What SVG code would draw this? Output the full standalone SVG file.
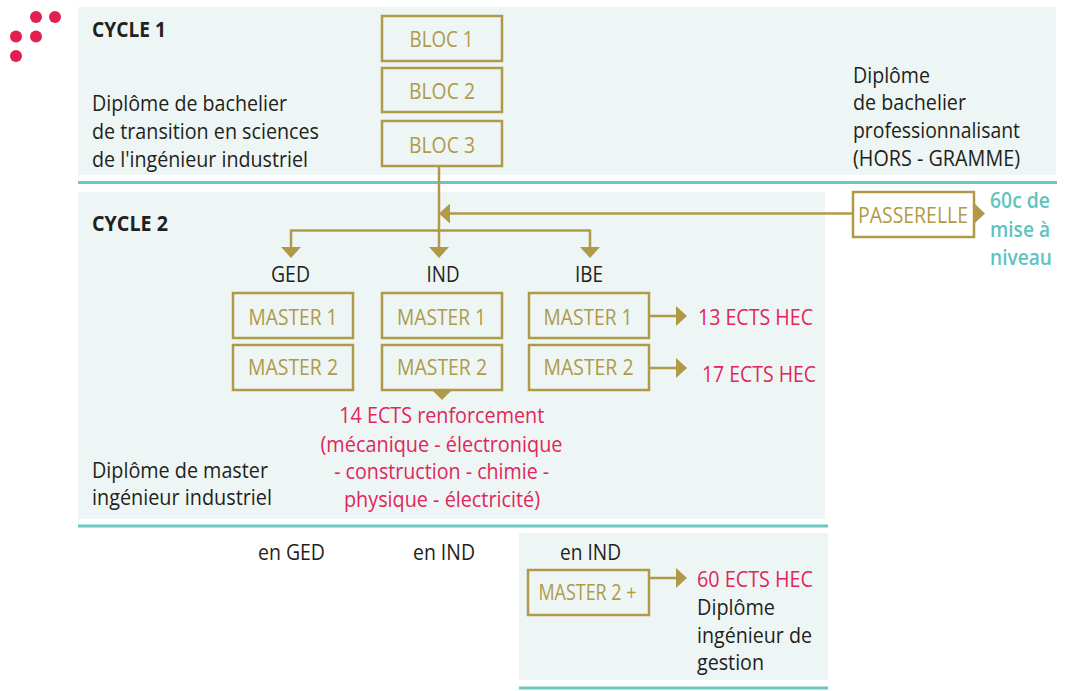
<svg xmlns="http://www.w3.org/2000/svg" width="1065" height="691" viewBox="0 0 1065 691">
<style>
text { font-family: "Open Sans", "Noto Sans", "DejaVu Sans", sans-serif; font-size: 21.5px; }
.d { fill: #231F20; }
.b { font-weight: 700; }
.g { fill: #B09A48; }
.r { fill: #E2255A; }
.c { fill: #5EC4BE; font-weight: 600; }
.m { text-anchor: middle; }
.bg { fill: #EDF6F5; }
.tl { stroke: #6CC6C1; stroke-width: 3; fill: none; }
.box { fill: none; stroke: #B09A48; stroke-width: 2.5; }
.ln { fill: none; stroke: #B09A48; stroke-width: 2.5; }
.ah { fill: #B09A48; }
.dot { fill: #E0204F; }
</style>
<defs>
<marker id="arr" markerUnits="userSpaceOnUse" markerWidth="11" markerHeight="20" refX="0" refY="10" orient="auto" viewBox="0 0 11 20">
<path d="M0,0 L11,10 L0,20 z" fill="#B09A48"/>
</marker>
</defs>
<rect width="1065" height="691" fill="#FFFFFF"/>
<g id="background">
<rect class="bg" x="78" y="7" width="978" height="168"/>
<rect class="bg" x="78" y="192" width="747" height="327"/>
<rect class="bg" x="519" y="533" width="309" height="147"/>
<line class="tl" x1="78" y1="182.5" x2="1057" y2="182.5"/>
<line class="tl" x1="78" y1="526" x2="828" y2="526"/>
<line class="tl" x1="519" y1="688" x2="828" y2="688"/>
</g>
<g id="logo">
<circle class="dot" cx="36" cy="17" r="6"/>
<circle class="dot" cx="55" cy="17" r="6"/>
<circle class="dot" cx="16" cy="36.5" r="6"/>
<circle class="dot" cx="36" cy="36.5" r="6"/>
<circle class="dot" cx="16" cy="56" r="6"/>
</g>
<g id="labels">
<text class="d b" x="92" y="37" textLength="74" lengthAdjust="spacingAndGlyphs">CYCLE 1</text>
<text class="d" x="92" y="111" textLength="195" lengthAdjust="spacingAndGlyphs">Diplôme de bachelier</text>
<text class="d" x="92" y="139" textLength="227" lengthAdjust="spacingAndGlyphs">de transition en sciences</text>
<text class="d" x="92" y="167" textLength="216" lengthAdjust="spacingAndGlyphs">de l'ingénieur industriel</text>
<text class="d" x="853" y="83" textLength="77" lengthAdjust="spacingAndGlyphs">Diplôme</text>
<text class="d" x="853" y="110" textLength="113" lengthAdjust="spacingAndGlyphs">de bachelier</text>
<text class="d" x="853" y="138" textLength="167" lengthAdjust="spacingAndGlyphs">professionnalisant</text>
<text class="d" x="853" y="166" textLength="167" lengthAdjust="spacingAndGlyphs">(HORS - GRAMME)</text>
<text class="d b" x="92" y="231" textLength="76" lengthAdjust="spacingAndGlyphs">CYCLE 2</text>
<text class="d m" x="290.5" y="282" textLength="39" lengthAdjust="spacingAndGlyphs">GED</text>
<text class="d m" x="443" y="282" textLength="33" lengthAdjust="spacingAndGlyphs">IND</text>
<text class="d m" x="589" y="282" textLength="28" lengthAdjust="spacingAndGlyphs">IBE</text>
<text class="d" x="92" y="478" textLength="176" lengthAdjust="spacingAndGlyphs">Diplôme de master</text>
<text class="d" x="92" y="505" textLength="180" lengthAdjust="spacingAndGlyphs">ingénieur industriel</text>
<text class="d" x="258" y="560" textLength="67" lengthAdjust="spacingAndGlyphs">en GED</text>
<text class="d" x="413" y="560" textLength="62" lengthAdjust="spacingAndGlyphs">en IND</text>
<text class="d" x="560" y="560" textLength="61" lengthAdjust="spacingAndGlyphs">en IND</text>
<text class="r" x="698" y="325" textLength="115" lengthAdjust="spacingAndGlyphs">13 ECTS HEC</text>
<text class="r" x="702" y="382" textLength="114" lengthAdjust="spacingAndGlyphs">17 ECTS HEC</text>
<text class="r m" x="441.7" y="423" textLength="205" lengthAdjust="spacingAndGlyphs">14 ECTS renforcement</text>
<text class="r m" x="441.5" y="451.5" textLength="242" lengthAdjust="spacingAndGlyphs">(mécanique - électronique</text>
<text class="r m" x="441.7" y="479" textLength="215" lengthAdjust="spacingAndGlyphs">- construction - chimie -</text>
<text class="r m" x="442" y="506.5" textLength="196" lengthAdjust="spacingAndGlyphs">physique - électricité)</text>
<text class="c" x="990" y="208" textLength="60" lengthAdjust="spacingAndGlyphs">60c de</text>
<text class="c" x="990" y="237" textLength="60" lengthAdjust="spacingAndGlyphs">mise à</text>
<text class="c" x="990" y="265" textLength="62" lengthAdjust="spacingAndGlyphs">niveau</text>
<text class="r" x="697" y="587" textLength="116" lengthAdjust="spacingAndGlyphs">60 ECTS HEC</text>
<text class="d" x="697" y="615" textLength="78" lengthAdjust="spacingAndGlyphs">Diplôme</text>
<text class="d" x="697" y="643" textLength="115" lengthAdjust="spacingAndGlyphs">ingénieur de</text>
<text class="d" x="697" y="670" textLength="67" lengthAdjust="spacingAndGlyphs">gestion</text>
</g>
<g id="connectors">
<line class="ln" x1="439" y1="166" x2="439" y2="231.5"/>
<line class="ln" x1="291" y1="230.5" x2="590" y2="230.5"/>
<line class="ln" x1="291" y1="229.5" x2="291" y2="247" marker-end="url(#arr)"/>
<line class="ln" x1="439" y1="229.5" x2="439" y2="247" marker-end="url(#arr)"/>
<line class="ln" x1="590" y1="229.5" x2="590" y2="247" marker-end="url(#arr)"/>
<line class="ln" x1="853" y1="213.5" x2="450" y2="213.5" marker-end="url(#arr)"/>
<path class="ah" d="M974,203 L985,213.5 L974,224 z"/>
<path class="ah" d="M432,390 L452,390 L442,400 z"/>
<line class="ln" x1="649" y1="316" x2="676" y2="316" marker-end="url(#arr)"/>
<line class="ln" x1="649" y1="368" x2="676" y2="368" marker-end="url(#arr)"/>
<line class="ln" x1="649" y1="578" x2="676" y2="578" marker-end="url(#arr)"/>
</g>
<g id="bloc1"><rect class="box" x="382" y="16" width="120" height="45"/><text class="g m" x="441.5" y="47" textLength="64" lengthAdjust="spacingAndGlyphs">BLOC 1</text></g>
<g id="bloc2"><rect class="box" x="382" y="68" width="120" height="44"/><text class="g m" x="442" y="99" textLength="66" lengthAdjust="spacingAndGlyphs">BLOC 2</text></g>
<g id="bloc3"><rect class="box" x="382" y="121" width="120" height="45"/><text class="g m" x="442" y="153" textLength="66" lengthAdjust="spacingAndGlyphs">BLOC 3</text></g>
<g id="ged-m1"><rect class="box" x="233" y="293" width="120" height="45"/><text class="g m" x="293" y="325" textLength="89" lengthAdjust="spacingAndGlyphs">MASTER 1</text></g>
<g id="ged-m2"><rect class="box" x="233" y="345" width="120" height="45"/><text class="g m" x="293" y="375" textLength="90" lengthAdjust="spacingAndGlyphs">MASTER 2</text></g>
<g id="ind-m1"><rect class="box" x="382" y="293" width="120" height="45"/><text class="g m" x="441.5" y="325" textLength="89" lengthAdjust="spacingAndGlyphs">MASTER 1</text></g>
<g id="ind-m2"><rect class="box" x="382" y="345" width="120" height="45"/><text class="g m" x="442" y="375" textLength="90" lengthAdjust="spacingAndGlyphs">MASTER 2</text></g>
<g id="ibe-m1"><rect class="box" x="529" y="293" width="120" height="45"/><text class="g m" x="588" y="325" textLength="89" lengthAdjust="spacingAndGlyphs">MASTER 1</text></g>
<g id="ibe-m2"><rect class="box" x="529" y="345" width="120" height="45"/><text class="g m" x="588.5" y="375" textLength="90" lengthAdjust="spacingAndGlyphs">MASTER 2</text></g>
<g id="passerelle"><rect class="box" x="853" y="192" width="121" height="45"/><text class="g m" x="913" y="223" textLength="110" lengthAdjust="spacingAndGlyphs">PASSERELLE</text></g>
<g id="master2plus"><rect class="box" x="528" y="570" width="121" height="45"/><text class="g m" x="587.5" y="600" textLength="98" lengthAdjust="spacingAndGlyphs">MASTER 2 +</text></g>
</svg>
